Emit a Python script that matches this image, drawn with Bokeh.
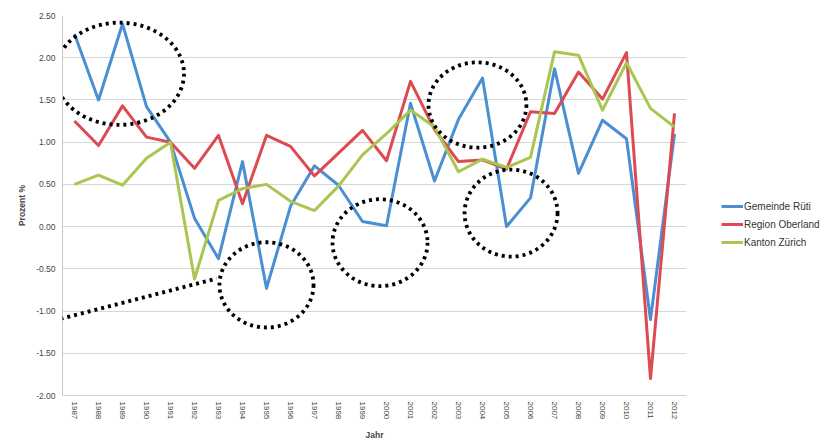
from bokeh.plotting import figure
from bokeh.models import Range1d, FixedTicker, NumeralTickFormatter, Legend, LegendItem, Arrow
from bokeh.embed import file_html
from bokeh.resources import INLINE

years = list(range(1987, 2013))
rueti = [2.28, 1.50, 2.40, 1.42, 1.00, 0.10, -0.38, 0.77, -0.73, 0.24, 0.72, 0.49, 0.06,
         0.01, 1.46, 0.54, 1.27, 1.76, 0.00, 0.34, 1.87, 0.63, 1.26, 1.04, -1.10, 1.10]
oberland = [1.25, 0.96, 1.43, 1.06, 1.00, 0.69, 1.08, 0.27, 1.08, 0.95, 0.60, 0.87, 1.14,
            0.78, 1.72, 1.15, 0.77, 0.79, 0.68, 1.36, 1.34, 1.83, 1.51, 2.06, -1.80, 1.34]
zuerich = [0.50, 0.61, 0.49, 0.81, 1.00, -0.62, 0.31, 0.45, 0.50, 0.30, 0.19, 0.48, 0.85,
           1.10, 1.38, 1.18, 0.65, 0.80, 0.70, 0.82, 2.07, 2.03, 1.38, 1.94, 1.40, 1.18]
series_names = ["Gemeinde Rüti", "Region Oberland", "Kanton Zürich"]
colors = ["#4a8fd2", "#dc4a52", "#a8c650"]
y_ticks = [-2.0, -1.5, -1.0, -0.5, 0.0, 0.5, 1.0, 1.5, 2.0, 2.5]

# dotted annotation ellipses (x centre year, y centre, width in years, height in %)
ell_x = [1988.875, 1995.0, 1999.73, 2003.79, 2005.19]
ell_y = [1.81, -0.69, -0.19, 1.44, 0.16]
ell_w = [5.375, 3.92, 3.96, 4.08, 3.875]
ell_h = [1.21, 1.01, 1.03, 1.01, 1.03]
# dotted connector line (the part inside the plot area)
conn = [((1983.875, -1.278), (1992.92, -0.615))]

FONT = "Liberation Sans"

p = figure(frame_width=624, frame_height=380, output_backend="svg", toolbar_location=None,
           x_range=Range1d(1986.5, 2012.5), y_range=Range1d(-2.0, 2.5),
           min_border_left=62, min_border_top=15, min_border_right=137, min_border_bottom=45)
p.outline_line_color = None
p.background_fill_color = "white"

renderers = []
for vals, c in zip([rueti, oberland, zuerich], colors):
    r = p.line(years, vals, line_color=c, line_width=3, line_join="round")
    renderers.append(r)

p.ellipse(x=ell_x, y=ell_y, width=ell_w, height=ell_h, fill_color=None,
          line_color="black", line_width=3.8, line_dash="3 4")
for (x0, y0), (x1, y1) in conn:
    p.add_layout(Arrow(end=None, x_start=x0, y_start=y0, x_end=x1, y_end=y1,
                       line_color="black", line_width=3.8, line_dash="3 4"))

# axes
p.xaxis.ticker = FixedTicker(ticks=years)
p.xaxis.major_label_orientation = "vertical"
p.xaxis.major_label_text_font = FONT
p.xaxis.major_label_text_font_size = "8px"
p.xaxis.major_label_text_color = "#444444"
p.xaxis.major_tick_line_color = None
p.xaxis.major_tick_out = 0
p.xaxis.major_tick_in = 0
p.xaxis.minor_tick_line_color = None
p.xaxis.axis_line_color = "#d0d0d0"
p.xaxis.axis_label = "Jahr"
p.xaxis.axis_label_text_font = FONT
p.xaxis.axis_label_text_font_style = "bold"
p.xaxis.axis_label_text_font_size = "8.5px"
p.xaxis.axis_label_standoff = 8
p.xaxis.major_label_standoff = 6

p.yaxis.ticker = FixedTicker(ticks=y_ticks)
p.yaxis.formatter = NumeralTickFormatter(format="0.00")
p.yaxis.major_label_text_font = FONT
p.yaxis.major_label_text_font_size = "8.5px"
p.yaxis.major_label_text_color = "#444444"
p.yaxis.major_tick_line_color = None
p.yaxis.major_tick_out = 0
p.yaxis.major_tick_in = 0
p.yaxis.minor_tick_line_color = None
p.yaxis.major_label_standoff = 7
p.yaxis.axis_line_color = "#c8c8c8"
p.yaxis.axis_label = "Prozent %"
p.yaxis.axis_label_text_font = FONT
p.yaxis.axis_label_text_font_style = "bold"
p.yaxis.axis_label_text_font_size = "8.5px"
p.yaxis.axis_label_standoff = 6

p.xgrid.grid_line_color = None
p.ygrid.grid_line_color = "#d6d6d6"
p.ygrid.grid_line_width = 1.2

legend = Legend(items=[LegendItem(label=n, renderers=[r]) for n, r in zip(series_names, renderers)],
                location=(35, 145), margin=0, padding=4, spacing=2,
                glyph_width=22, glyph_height=16, label_standoff=1,
                label_text_font=FONT, label_text_font_size="10px",
                label_text_color="#333333",
                border_line_color=None, background_fill_alpha=0)
p.add_layout(legend, "right")

open("out.html", "w").write(file_html(p, INLINE))
